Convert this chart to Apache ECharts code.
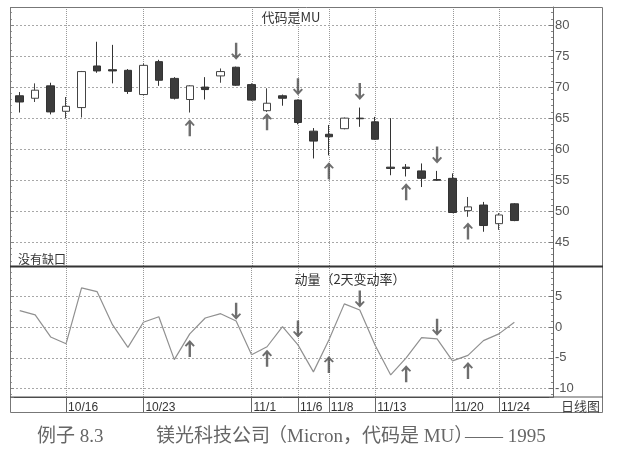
<!DOCTYPE html>
<html>
<head>
<meta charset="utf-8">
<script src="https://cdn.jsdelivr.net/npm/echarts@6/dist/echarts.min.js"></script>
<style>
html,body{margin:0;padding:0;background:#fff;}
#c{width:622px;height:463px;}
</style>
</head>
<body>
<div id="c"></div>
<script>
// ---- data ----
var dates = ['10/11','10/12','10/13','10/16','10/17','10/18','10/19','10/20','10/23','10/24',
             '10/25','10/26','10/27','10/30','10/31','11/1','11/2','11/3','11/6','11/7',
             '11/8','11/9','11/10','11/13','11/14','11/15','11/16','11/17','11/20','11/21',
             '11/22','11/24','11/27'];
var padCategories = ['', ''];
var labelDates = ['10/16','10/23','11/1','11/6','11/8','11/13','11/20','11/24'];

var opens  = [68.6,68.2,70.2,66.1,66.7,73.4,72.8,72.7,68.8,74.1,71.4,68.0,70.0,71.8,73.2,70.4,66.2,68.6,67.9,62.9,62.4,63.3,65.0,64.4,57.1,57.1,56.5,55.1,55.3,50.1,51.0,48.0,51.2];
var closes = [67.6,69.5,66.0,66.9,72.5,72.6,72.6,69.3,73.5,71.1,68.2,70.2,69.6,72.5,70.3,67.9,67.4,68.2,64.3,61.3,62.0,65.0,64.9,61.6,56.9,56.9,55.3,55.0,49.8,50.7,47.7,49.4,48.5];
var lows   = [65.9,67.6,65.6,65.0,65.1,72.3,70.6,68.9,68.7,70.2,68.0,65.9,68.0,70.7,70.2,67.8,66.0,67.0,64.0,58.5,59.0,63.2,63.6,61.5,55.8,55.6,53.9,54.9,49.7,49.1,46.7,47.0,48.4];
var highs  = [69.2,70.6,70.7,68.4,72.6,77.3,76.8,72.9,73.8,74.4,71.6,70.3,71.6,73.0,73.3,70.6,69.8,68.8,68.0,63.4,63.9,65.1,66.7,65.2,65.0,57.6,57.7,56.5,56.1,52.3,51.5,49.7,51.3];

var momentum = [2.7,2.0,-1.6,-2.7,6.4,5.8,0.4,-3.3,0.8,1.7,-5.3,-1.1,1.5,2.2,1.0,-4.5,-3.2,0.1,-2.9,-7.3,-2.1,3.8,2.8,-3.0,-7.8,-5.0,-1.7,-1.9,-5.5,-4.6,-2.2,-1.1,0.8];

// arrows: [category, tip value]
var priceUpArrows   = [['10/26',64.8],['11/2',65.8],['11/8',57.9],['11/15',54.5],['11/21',48.2]];
var priceDownArrows = [['10/31',74.4],['11/6',68.7],['11/10',67.9],['11/17',57.7]];
var momUpArrows     = [['10/26',-2.1],['11/2',-3.7],['11/8',-4.7],['11/15',-6.2],['11/21',-5.7]];
var momDownArrows   = [['10/31',1.2],['11/6',-1.7],['11/10',3.2],['11/17',-1.4]];

var priceTicks = [45,50,55,60,65,70,75,80];
var momTicks = [-10,-5,0,5];
var priceRange = [41.1, 82.9];
var momRange = [-11.4, 9.9];

// ---- chart ----
var cats = dates.concat(padCategories);
var candleData = dates.map(function(d,i){ return [opens[i], closes[i], lows[i], highs[i]]; });
var upPath = 'path://M5,0 L10,6.5 L8.6,7.8 L6.2,5 L6.2,20 L3.8,20 L3.8,5 L1.4,7.8 L0,6.5 Z';
var downPath = 'path://M5,20 L10,13.5 L8.6,12.2 L6.2,15 L6.2,0 L3.8,0 L3.8,15 L1.4,12.2 L0,13.5 Z';
var isLabel = function(idx, val){ return labelDates.indexOf(cats[idx]) >= 0; };
var GRID_H = [259.5, 130.5];

function rightAxis(gi, range, split, ticks){
  return {
    type: 'value', gridIndex: gi, position: 'right', min: range[0], max: range[1], splitNumber: split,
    axisLine: {show: true, onZero: false, lineStyle: {color: '#666', width: 1}},
    axisTick: {show: true, inside: true, length: 4, lineStyle: {color: '#777'}},
    minorTick: {show: true, splitNumber: 5, length: 2, lineStyle: {color: '#888'}},
    axisLabel: {show: true, margin: 2, fontSize: 13, color: '#555', fontFamily: 'Liberation Sans Narrow, Liberation Sans, sans-serif',
      showMinLabel: false, showMaxLabel: false,
      formatter: function(v){ return ticks.indexOf(v) >= 0 ? String(v) : ''; }},
    splitLine: {show: true, lineStyle: {type: [2, 2], color: '#a8a8a8', width: 1}}
  };
}
function leftRuler(gi, range, split){
  return {
    type: 'value', gridIndex: gi, position: 'left', offset: 2, min: range[0], max: range[1], splitNumber: split,
    axisLine: {show: false, onZero: false},
    axisTick: {show: true, inside: true, length: 4, lineStyle: {color: '#888'}},
    minorTick: {show: true, splitNumber: 5, length: 2, lineStyle: {color: '#999'}},
    axisLabel: {show: false},
    splitLine: {show: false}
  };
}
var markLineCfg = {
  silent: true, symbol: ['none', 'none'], animation: false,
  label: {show: false}, emphasis: {disabled: true},
  lineStyle: {type: 'dotted', color: '#999', width: 1},
  data: labelDates.map(function(d){ return {xAxis: dates.indexOf(d)}; })
};
function arrowSeries(xi, yi, data, path, up){
  return {
    type: 'scatter', xAxisIndex: xi, yAxisIndex: yi, data: data,
    symbol: path, symbolSize: [10, 17], symbolOffset: [0, up ? 8.5 : -8.5],
    itemStyle: {color: '#4a4a4a'}, silent: true, animation: false, z: 5
  };
}

var baseGraphic = [
  {type: 'rect', shape: {x: 10.5, y: 7.5, width: 592, height: 405}, style: {fill: null, stroke: '#777', lineWidth: 1}, silent: true, z: 10},
  {type: 'line', shape: {x1: 10, y1: 266.5, x2: 603, y2: 266.5}, style: {stroke: '#333', lineWidth: 2}, silent: true, z: 10},
  {type: 'line', shape: {x1: 10, y1: 397, x2: 603, y2: 397}, style: {stroke: '#555', lineWidth: 1}, silent: true, z: 10},
  {type: 'text', x: 291, y: 17, style: {text: '代码是MU', fontSize: 13, fill: '#333', align: 'center', verticalAlign: 'middle', fontFamily: 'Noto Sans CJK SC, sans-serif'}, z: 10},
  {type: 'text', x: 18, y: 259, style: {text: '没有缺口', fontSize: 12, fill: '#333', align: 'left', verticalAlign: 'middle', fontFamily: 'Noto Sans CJK SC, sans-serif'}, z: 10},
  {type: 'text', x: 350, y: 279, style: {text: '动量（2天变动率）', fontSize: 13, fill: '#333', align: 'center', verticalAlign: 'middle', fontFamily: 'Noto Sans CJK SC, sans-serif'}, z: 10},
  {type: 'text', x: 600, y: 406, style: {text: '日线图', fontSize: 13, fill: '#444', align: 'right', verticalAlign: 'middle', fontFamily: 'Noto Sans CJK SC, sans-serif'}, z: 10},
  {type: 'text', x: 37, y: 437, style: {text: '例子 8.3', fontSize: 19, fill: '#666', align: 'left', verticalAlign: 'middle', fontFamily: 'Liberation Serif, Noto Sans CJK SC, serif'}, z: 10},
  {type: 'text', x: 156, y: 437, style: {text: '镁光科技公司', fontSize: 19, fill: '#666', align: 'left', verticalAlign: 'middle', fontFamily: 'Liberation Serif, Noto Sans CJK SC, serif'}, z: 10},
  {type: 'text', x: 268, y: 437, style: {text: '（Micron，代码是 MU）', fontSize: 19, fill: '#666', align: 'left', verticalAlign: 'middle', fontFamily: 'Liberation Serif, Noto Sans CJK SC, serif'}, z: 10},
  {type: 'text', x: 465, y: 437, style: {text: '—— 1995', fontSize: 19, fill: '#666', align: 'left', verticalAlign: 'middle', fontFamily: 'Liberation Serif, Noto Sans CJK SC, serif'}, z: 10}
];

var chart = echarts.init(document.getElementById('c'), null, {renderer: 'canvas'});
chart.setOption({
  backgroundColor: '#fff',
  animation: false,
  grid: [
    {left: 12, top: 7, width: 541, height: GRID_H[0]},
    {left: 12, top: 266.5, width: 541, height: GRID_H[1]}
  ],
  xAxis: [
    {type: 'category', gridIndex: 0, data: cats, boundaryGap: true, position: 'bottom', show: false,
     axisLine: {show: false, onZero: false}},
    {type: 'category', gridIndex: 1, data: cats, boundaryGap: true, position: 'bottom',
     axisLine: {show: true, onZero: false, lineStyle: {color: '#444', width: 1}},
     axisTick: {show: true, alignWithLabel: true, interval: isLabel, length: 16, lineStyle: {color: '#666'}},
     axisLabel: {show: true, interval: isLabel, align: 'left', margin: 5, padding: [0,0,0,2],
       fontSize: 12, color: '#333', fontFamily: 'Liberation Sans, Arial, sans-serif'},
     splitLine: {show: false}}
  ],
  yAxis: [
    rightAxis(0, priceRange, 8, priceTicks),
    rightAxis(1, momRange, 4, momTicks),
    leftRuler(0, priceRange, 8),
    leftRuler(1, momRange, 4)
  ],
  series: [
    {type: 'candlestick', xAxisIndex: 0, yAxisIndex: 0, data: candleData, barWidth: 8,
     itemStyle: {color: '#fff', color0: '#3c3c3c', borderColor: '#444', borderColor0: '#333', borderWidth: 1}, z: 3},
    {type: 'line', xAxisIndex: 1, yAxisIndex: 1, data: momentum, showSymbol: false, symbol: 'none',
     lineStyle: {color: '#909090', width: 1.2}, z: 3, markLine: markLineCfg},
    arrowSeries(0, 0, priceUpArrows, upPath, true),
    arrowSeries(0, 0, priceDownArrows, downPath, false),
    arrowSeries(1, 1, momUpArrows, upPath, true),
    arrowSeries(1, 1, momDownArrows, downPath, false)
  ],
  graphic: baseGraphic
});

// vertical dotted grid lines in the price panel, placed through the library's own axes
var yTop = chart.convertToPixel({yAxisIndex: 0}, priceRange[1]);
var yBot = chart.convertToPixel({yAxisIndex: 0}, priceRange[0]);
var upperGridLines = labelDates.map(function(d){
  var x = Math.round(chart.convertToPixel({xAxisIndex: 0}, dates.indexOf(d))) + 0.5;
  return {type: 'line', shape: {x1: x, y1: yTop, x2: x, y2: yBot},
    style: {stroke: '#999', lineWidth: 1, lineDash: [1, 1]}, silent: true, z: 1};
});
chart.setOption({graphic: baseGraphic.concat(upperGridLines)});
</script>
</body>
</html>
